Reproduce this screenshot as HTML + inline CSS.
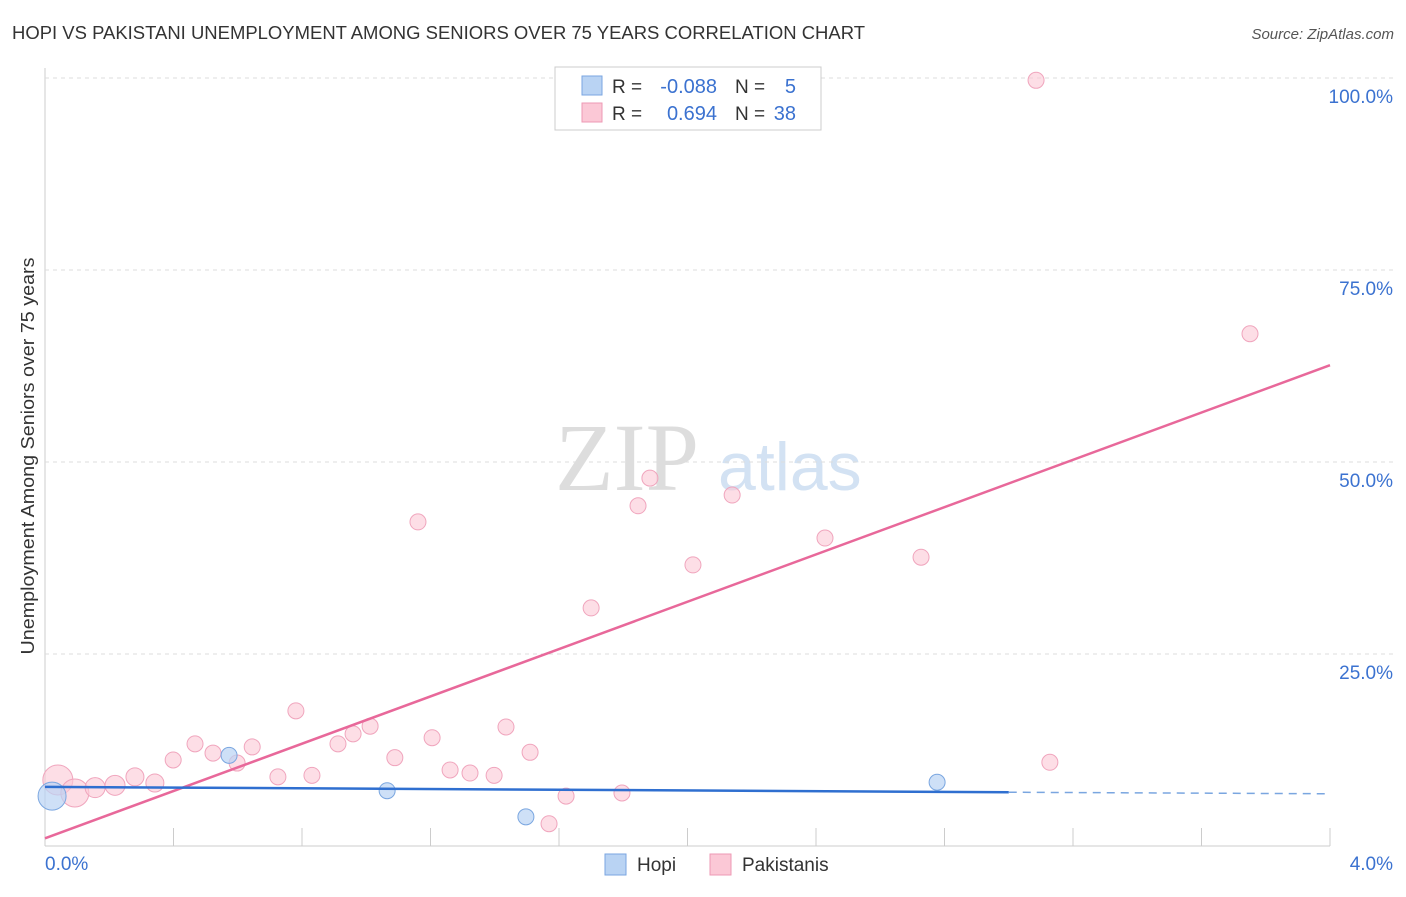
<!DOCTYPE html>
<html><head><meta charset="utf-8"><style>
body{margin:0;background:#fff;font-family:"Liberation Sans",sans-serif}
</style></head><body>
<svg id="c" width="1406" height="892" font-family="Liberation Sans, sans-serif">
<text x="12" y="39" font-size="18" fill="#333" textLength="853" lengthAdjust="spacingAndGlyphs">HOPI VS PAKISTANI UNEMPLOYMENT AMONG SENIORS OVER 75 YEARS CORRELATION CHART</text>
<text x="1394" y="39" font-size="15" fill="#555" text-anchor="end" font-style="italic">Source: ZipAtlas.com</text>
<text x="34" y="456" font-size="18" fill="#333" text-anchor="middle" textLength="397" lengthAdjust="spacingAndGlyphs" transform="rotate(-90 34 456)">Unemployment Among Seniors over 75 years</text>
<g><text x="555" y="490" font-size="96" fill="#ddd" style="font-family:'Liberation Serif',serif">ZIP</text><text x="718" y="490" font-size="68" fill="#d3e2f3">atlas</text></g>
<g id="grid"></g><g id="marks"></g>
<g>
<rect x="555" y="67" width="266" height="63" fill="#fff" stroke="#ccc"/>
<rect x="582" y="76" width="20" height="19" fill="#b9d3f3" stroke="#7aa6e0"/>
<rect x="582" y="103" width="20" height="19" fill="#fbc8d6" stroke="#ee99b4"/>
<text x="612" y="93" font-size="19" fill="#333">R =</text>
<text x="717" y="93" font-size="20" fill="#3b72d0" text-anchor="end">-0.088</text>
<text x="735" y="93" font-size="19" fill="#333">N =</text>
<text x="796" y="93" font-size="20" fill="#3b72d0" text-anchor="end">5</text>
<text x="612" y="120" font-size="19" fill="#333">R =</text>
<text x="717" y="120" font-size="20" fill="#3b72d0" text-anchor="end">0.694</text>
<text x="735" y="120" font-size="19" fill="#333">N =</text>
<text x="796" y="120" font-size="20" fill="#3b72d0" text-anchor="end">38</text>
</g>
<g>
<rect x="605" y="854" width="21" height="21" fill="#b9d3f3" stroke="#7aa6e0"/>
<text x="637" y="871" font-size="19" fill="#333">Hopi</text>
<rect x="710" y="854" width="21" height="21" fill="#fbc8d6" stroke="#ee99b4"/>
<text x="742" y="871" font-size="19" fill="#333">Pakistanis</text>
</g>
</svg>
<script>
const yTicks=[25,50,75,100];
const yTickLabels=["25.0%","50.0%","75.0%","100.0%"];
const xTickLabels=["0.0%","4.0%"];
const pakX=[0.040,0.093,0.156,0.218,0.280,0.342,0.399,0.467,0.523,0.598,0.645,0.725,0.781,0.831,0.912,0.959,1.012,1.089,1.161,1.205,1.261,1.323,1.398,1.435,1.510,1.569,1.622,1.700,1.796,1.846,1.883,2.017,2.139,2.428,2.727,3.085,3.128,3.751];
const pakY=[8.6,6.9,7.6,7.9,9.0,8.2,11.2,13.3,12.1,10.8,12.9,9.0,17.6,9.2,13.3,14.6,15.6,11.5,42.2,14.1,9.9,9.5,9.2,15.5,12.2,2.9,6.5,31.0,6.9,44.3,47.9,36.6,45.7,40.1,37.6,99.7,10.9,66.7];
const pakR=[15,14,10,10,9,9,8,8,8,8,8,8,8,8,8,8,8,8,8,8,8,8,8,8,8,8,8,8,8,8,8,8,8,8,8,8,8,8];
const hopiX=[0.022,0.573,1.065,1.497,2.777];
const hopiY=[6.5,11.8,7.2,3.8,8.3];
const hopiR=[14,8,8,8,8];
const pakLine=[1.0,62.6];
const hopiLine=[7.7,7.0,6.8];
const X=v=>45+v*321.25, Y=v=>846-v*7.68;
const NS="http://www.w3.org/2000/svg";
function mk(p,t,a){const e=document.createElementNS(NS,t);for(const k in a)e.setAttribute(k,a[k]);p.appendChild(e);return e;}
const g=document.getElementById('grid'), m=document.getElementById('marks');
let ax=mk(g,'line',{x1:45,y1:68,x2:45,y2:846,stroke:'#ccc'});


let bx=mk(g,'line',{x1:45,y1:846,x2:1330,y2:846,stroke:'#ccc'});


for(let i=0;i<=10;i++){let t=mk(g,'line',{x1:X(i*0.4),y1:828,x2:X(i*0.4),y2:846,stroke:'#ccc'});

}
yTicks.forEach((v,i)=>{let l=mk(g,'line',{x1:45,x2:1395,y1:Y(v),y2:Y(v),stroke:'#ddd','stroke-dasharray':'4 4'});


let t=mk(g,'text',{x:1393,y:Y(v)+25,'font-size':19,fill:'#3b72d0','text-anchor':'end'});t.textContent=yTickLabels[i];

});
[[0,'start',45],[4,'end',1393]].forEach((a,i)=>{let t=mk(g,'text',{x:a[2],y:870,'font-size':19,fill:'#3b72d0','text-anchor':a[1]});t.textContent=xTickLabels[i];

});
pakX.forEach((x,i)=>{let c=mk(m,'circle',{cx:X(x),cy:Y(pakY[i]),r:pakR[i],fill:'#fbc8d6','fill-opacity':0.6,stroke:'#f0a5bd'});

});
hopiX.forEach((x,i)=>{let c=mk(m,'circle',{cx:X(x),cy:Y(hopiY[i]),r:hopiR[i],fill:'#b9d3f3','fill-opacity':0.7,stroke:'#7aa6e0'});

});
let pl=mk(m,'line',{x1:X(0),y1:Y(pakLine[0]),x2:X(4),y2:Y(pakLine[1]),stroke:'#e8689a','stroke-width':2.5});


let hl=mk(m,'line',{x1:X(0),y1:Y(hopiLine[0]),x2:X(3.0),y2:Y(hopiLine[1]),stroke:'#2f6fd0','stroke-width':2.5});


let hd=mk(m,'line',{x1:X(3.0),y1:Y(hopiLine[1]),x2:X(4),y2:Y(hopiLine[2]),stroke:'#7aa6e0','stroke-width':1.5,'stroke-dasharray':'8 6'});


</script>
</body></html>
